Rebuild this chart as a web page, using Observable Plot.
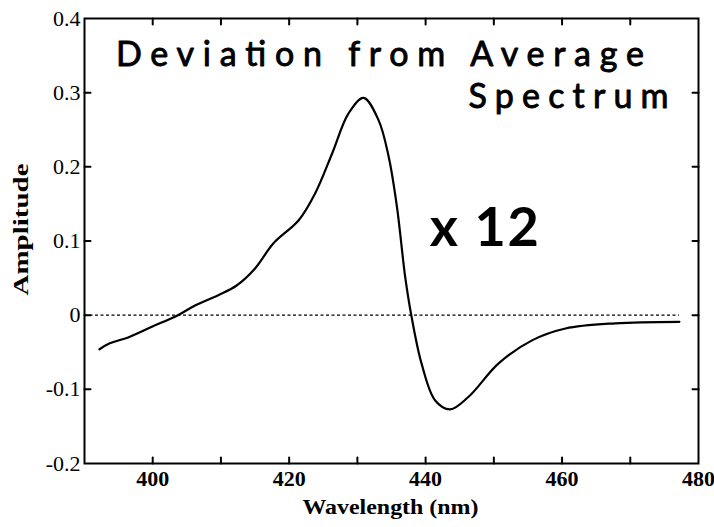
<!DOCTYPE html>
<html>
<head>
<meta charset="utf-8">
<script src="https://cdn.jsdelivr.net/npm/d3@7"></script>
<script src="https://cdn.jsdelivr.net/npm/@observablehq/plot@0.6"></script>
<style>
  html, body { margin: 0; padding: 0; background: #fff; }
  #chart svg { display: block; }
</style>
</head>
<body>
<div id="chart"></div>
<script>
// Wavelength (nm) and amplitude of the deviation spectrum
const wavelength = [392.2, 393.7, 396.4, 399.8, 403.7, 406.2, 409.6, 412.3, 415.0, 417.7, 421.4, 423.8, 426.3, 428.7, 430.9, 433.1, 434.6, 435.8, 437.0, 437.9, 439.4, 441.4, 443.6, 446.3, 450.7, 455.6, 460.5, 467.8, 477.2];
const amplitude  = [-0.046, -0.038, -0.030, -0.016, 0.000, 0.013, 0.027, 0.040, 0.063, 0.097, 0.128, 0.164, 0.218, 0.272, 0.293, 0.263, 0.213, 0.146, 0.052, 0.000, -0.065, -0.115, -0.127, -0.110, -0.065, -0.034, -0.018, -0.011, -0.009];

const xDomain = [390, 480];
const yDomain = [-0.2, 0.4];
const xTickLabels = [400, 420, 440, 460, 480];
const xTickMarks = [400, 410, 420, 430, 440, 450, 460, 470];
const yTickLabels = [-0.2, -0.1, 0, 0.1, 0.2, 0.3, 0.4];
const yTickMarks = [-0.1, 0, 0.1, 0.2, 0.3];

// Hand-written annotations, anchored in data coordinates
const noteText = ["Deviation from Average", "Spectrum"];
const noteX = [394.6, 446.3];
const noteY = [0.350, 0.294];
const factorText = ["x 12"];
const factorX = [440.6];
const factorY = [0.116];

const xLabel = "Wavelength (nm)";
const yLabel = "Amplitude";

const spectrum = wavelength.map((w, i) => ({w, a: amplitude[i]}));
const notes = noteText.map((t, i) => ({t, x: noteX[i], y: noteY[i]}));
const factor = factorText.map((t, i) => ({t, x: factorX[i], y: factorY[i]}));

// styling (not data)
const stretch = new Map([
  ["Deviation from Average", [528, "spacing"]],
  ["Spectrum", [200, "spacing"]],
  ["x 12", [109, "spacing"]],
  ["Amplitude", [132, "spacingAndGlyphs"]],
  ["Wavelength (nm)", [176, "spacingAndGlyphs"]]
]);

const tickShape = {draw(ctx, l) { ctx.moveTo(0, 0); ctx.lineTo(0, -l); }};
const tickStyle = {length: 6, anchor: "start", shape: tickShape, stroke: "#000", strokeWidth: 2};

const chart = Plot.plot({
  width: 714,
  height: 527,
  marginLeft: 84,
  marginRight: 16,
  marginTop: 18,
  marginBottom: 64,
  style: {fontFamily: "Liberation Serif", color: "#000", background: "#fff"},
  x: {domain: xDomain},
  y: {domain: yDomain},
  marks: [
    Plot.ruleY([0], {x1: xDomain[0], x2: wavelength[wavelength.length - 1], stroke: "#000", strokeWidth: 1.3, strokeDasharray: "3,2.5"}),
    Plot.line(spectrum, {x: "w", y: "a", curve: "catmull-rom", stroke: "#000", strokeWidth: 2.2}),
    Plot.frame({stroke: "#000", strokeWidth: 2}),
    // inward ticks on all four sides
    Plot.vector(xTickMarks, {x: d => d, frameAnchor: "bottom", rotate: 0, ...tickStyle}),
    Plot.vector(xTickMarks, {x: d => d, frameAnchor: "top", rotate: 180, ...tickStyle}),
    Plot.vector(yTickMarks, {y: d => d, frameAnchor: "left", rotate: 90, ...tickStyle}),
    Plot.vector(yTickMarks, {y: d => d, frameAnchor: "right", rotate: -90, ...tickStyle}),
    Plot.axisX({ticks: xTickLabels, tickSize: 0, tickPadding: 7, tickFormat: d => String(d), fontSize: 22, fontWeight: "bold", label: null}),
    Plot.axisY({ticks: yTickLabels, tickSize: 0, tickPadding: 4, tickFormat: d => String(d), fontSize: 22, label: null, stroke: "#000", strokeWidth: 0.4}),
    Plot.text([yLabel], {frameAnchor: "left", rotate: -90, textAnchor: "start", dx: -63, dy: 54.5, fontSize: 20, fontWeight: "bold", fill: "#000"}),
    Plot.text([xLabel], {frameAnchor: "bottom", dy: 50, dx: -1, fontSize: 21, fontWeight: "bold", fill: "#000"}),
    Plot.text(notes, {x: "x", y: "y", text: "t", fontSize: 34, textAnchor: "start", lineAnchor: "middle", fontFamily: "Lato", fill: "#000", stroke: "#000", strokeWidth: 0.9}),
    Plot.text(factor, {x: "x", y: "y", text: "t", fontSize: 54, textAnchor: "start", lineAnchor: "middle", fontFamily: "Lato", fontWeight: "bold", fill: "#000"})
  ]
});

d3.select(chart).selectAll("text").each(function() {
  const s = stretch.get(this.textContent);
  if (s) {
    this.setAttribute("textLength", s[0]);
    this.setAttribute("lengthAdjust", s[1]);
  }
});

document.getElementById("chart").appendChild(chart);
</script>
</body>
</html>
